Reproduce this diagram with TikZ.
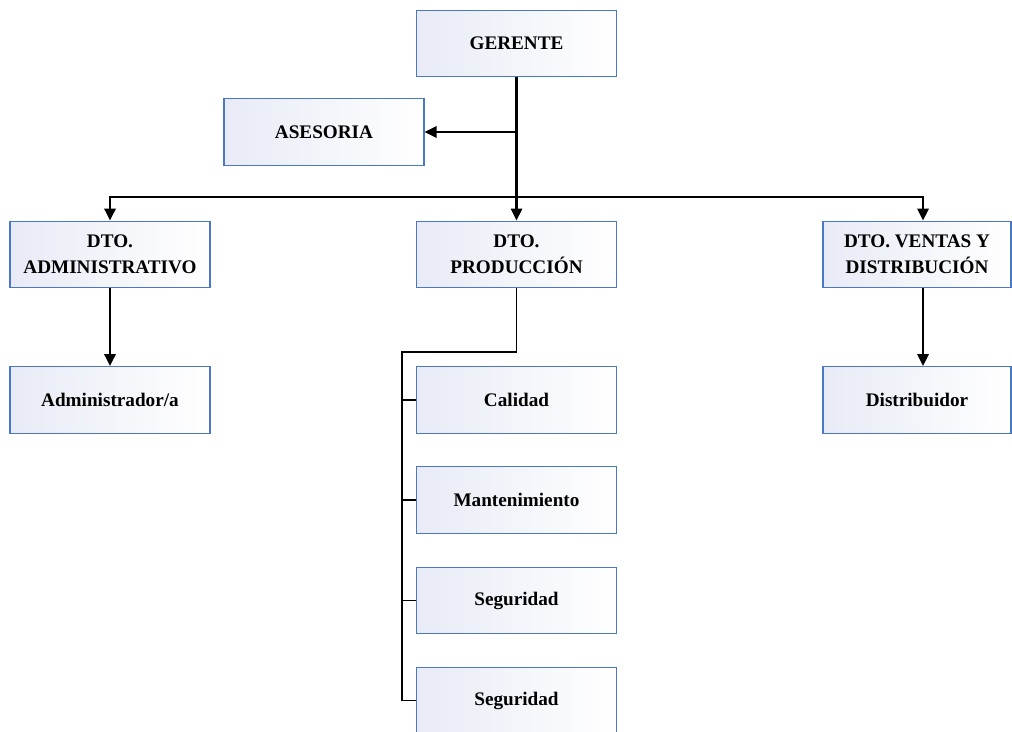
\documentclass[tikz,border=0pt]{standalone}
\usepackage{fontspec}
\setmainfont{Liberation Serif}
\usetikzlibrary{arrows.meta}
\definecolor{boxborder}{HTML}{4A78C8}
\definecolor{boxfill}{HTML}{E8EBF6}
\tikzset{
  orgbox/.style={draw=boxborder, line width=0.9pt, shading=axis, shading angle=-60,
    left color=boxfill, right color=white,
    minimum width=150pt, minimum height=50pt, inner sep=0pt, align=center,
    font=\bfseries\fontsize{14.4}{19.5}\selectfont, text=black},
  mainline/.style={line width=1.6pt, black},
  arrowline/.style={mainline, -{Triangle[length=9pt,width=8.5pt]}},
  thinline/.style={line width=0.8pt, black},
}
\begin{document}
\begin{tikzpicture}[x=0.75pt,y=-0.75pt]
\useasboundingbox (0,0) rectangle (1012,731);
\clip (0,0) rectangle (1012,731);
\node[orgbox] (ger) at (516.5,43.5) {GERENTE};
\node[orgbox] (ase) at (324,132) {ASESORIA};
\node[orgbox] (adm) at (110,254.5) {DTO.\\ADMINISTRATIVO};
\node[orgbox] (prod) at (516.5,254.5) {DTO.\\PRODUCCIÓN};
\node[orgbox, minimum width=141pt] (ven) at (917,254.5) {DTO. VENTAS Y\\DISTRIBUCIÓN};
\node[orgbox] (admr) at (110,400) {Administrador/a};
\node[orgbox, minimum width=141pt] (dis) at (917,400) {Distribuidor};
\node[orgbox] (cal) at (516.5,400) {Calidad};
\node[orgbox] (man) at (516.5,500) {Mantenimiento};
\node[orgbox] (seg) at (516.5,600.5) {Seguridad};
\node[orgbox] (segb) at (516.5,700.5) {Seguridad};
\coordinate (bar) at (516.5,197);
\coordinate (adx) at (110,197);
\coordinate (vex) at (923,197);
\coordinate (pbus) at (402,352);
% trunk
\draw[arrowline] (ger.south) -- (prod.north);
\draw[arrowline] (ger.south |- ase.east) -- (ase.east);
\draw[arrowline] (bar) -- (adx) -- (adx |- adm.north);
\draw[arrowline] (bar) -- (vex) -- (vex |- ven.north);
\draw[arrowline] (adm.south) -- (admr.north);
\draw[arrowline] (vex |- ven.south) -- (vex |- dis.north);
% production branch
\draw[thinline] (prod.south) |- (pbus) |- (segb.west);
\draw[thinline] (pbus |- cal.west) -- (cal.west);
\draw[thinline] (pbus |- man.west) -- (man.west);
\draw[thinline] (pbus |- seg.west) -- (seg.west);
\end{tikzpicture}
\end{document}
